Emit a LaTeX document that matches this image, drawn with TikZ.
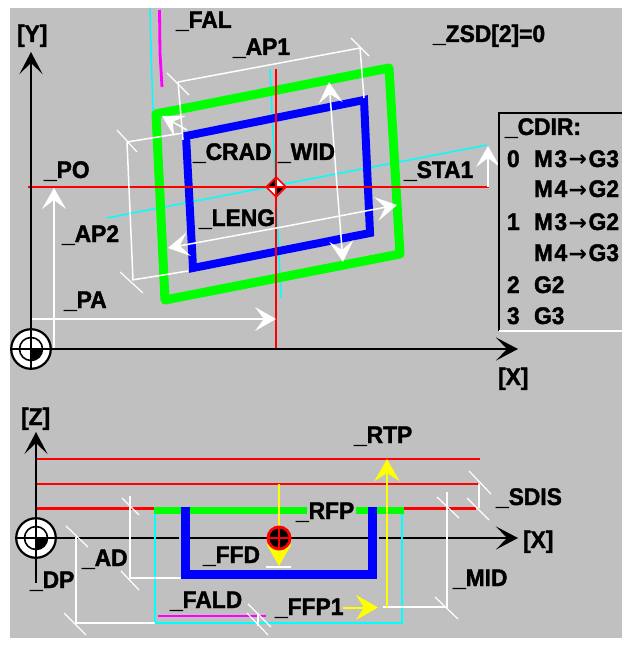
\documentclass[tikz,border=0pt]{standalone}
\usepackage{fontspec}
\setmainfont{Liberation Sans}[BoldFeatures={FakeBold=1.7,FakeStretch=0.95}]
\newfontfamily\arrowfont{DejaVu Sans Bold}
\usetikzlibrary{arrows.meta}
\definecolor{panel}{RGB}{192,192,192}
\definecolor{pred}{RGB}{255,0,0}
\definecolor{pgreen}{RGB}{0,255,0}
\definecolor{pblue}{RGB}{0,0,255}
\definecolor{pcyan}{RGB}{0,255,255}
\definecolor{pmag}{RGB}{255,0,255}
\definecolor{pyel}{RGB}{255,255,0}
\tikzset{
  lbl/.style={anchor=base west,inner sep=0pt,outer sep=0pt,font=\fontsize{24}{24}\selectfont\bfseries,text=black},
  axis/.style={black,line width=1.4pt},
  axhead/.style={-{Stealth[length=22pt,width=23pt,inset=11pt]}},
  wline/.style={white,line width=1.5pt},
  wthick/.style={white,line width=2pt},
  wtick/.style={white,line width=1.2pt},
  whead/.style={-{Stealth[length=21pt,width=24pt,inset=9pt]}},
  yhead/.style={-{Stealth[length=22pt,width=25pt,inset=8pt]}},
  redl/.style={pred,line width=1.6pt},
  grn/.style={pgreen,line width=9pt,line join=round},
  blu/.style={pblue,line width=8pt,line join=miter},
  cyn/.style={pcyan,line width=1.5pt},
  mag/.style={pmag,line width=2.8pt},
  yel/.style={pyel,line width=2pt}
}
\newcommand{\originmark}[2]{%
  \fill[white] (#1,#2) circle (20.5pt);
  \draw[black,line width=2.2pt] (#1,#2) circle (19.8pt);
  \draw[black,line width=1.6pt] (#1,#2) circle (11.5pt);
  \fill[black] (#1,#2) -- (#1+11,#2) arc[start angle=0,end angle=-90,radius=11pt] -- cycle;
  \draw[black,line width=1.5pt] (#1-21,#2) -- (#1+21,#2) (#1,#2-21) -- (#1,#2+21);
}
\begin{document}
\begin{tikzpicture}[x=1pt,y=-1pt]
\useasboundingbox (0,0) rectangle (631,647);
\fill[white] (0,0) rectangle (631,647);
\fill[panel] (10,8) rectangle (622,638);

%% ---------- upper view
\draw[cyn] (150,8) -- (151,53) -- (153,110);
\draw[cyn] (107,218) -- (487,145);
\draw[cyn] (270,69) -- (281,298);
\draw[mag] (159.5,10) -- (160,53) -- (162,87);
\draw[grn] (156,114) -- (389,68) -- (400,254) -- (165,300) -- cycle;
\draw[blu] (186,136) -- (364,100) -- (370,233) -- (193,268) -- cycle;
\draw[redl] (28,187) -- (489,187);
\draw[pred,line width=2.6pt] (276,69) -- (276,349);
\draw[wline] (178,82) -- (360,48);
\draw[wline] (178,82) -- (183,140);
\draw[wline] (360,48) -- (364,98);
\draw[wline] (127,142) -- (183,133);
\draw[wline] (127,142) -- (133,280);
\draw[wline] (132,280) -- (188,271);
\draw[wtick] (167,73) -- (189,95);
\draw[wtick] (351,38) -- (369,56);
\draw[wtick] (117,130) -- (137,152);
\draw[wtick] (120,272) -- (143,293);
\draw[wline,whead] (187,130) -- (162,116);
\draw[wline,whead] (336,173) -- (329,82);
\draw[wline,whead] (336,173) -- (343,262);
\draw[wline,whead] (282,227) -- (168,248);
\draw[wline,whead] (282,227) -- (397,205);
\draw[wthick,whead] (54,349) -- (54,188);
\draw[wthick,whead] (31,319) -- (276,319);
\draw[wline,whead] (488,187) -- (488,146);
\draw[axis,axhead] (31,349) -- (31,52);
\draw[axis,axhead] (31,349) -- (518,349);
\originmark{31}{349}
\fill[pred] (276,176) -- (287,187) -- (276,198) -- (265,187) -- cycle;
\fill[white] (276,178.5) -- (284.5,187) -- (276,195.5) -- (267.5,187) -- cycle;
\fill[black] (276,187) -- (276,178.5) -- (267.5,187) -- cycle (276,187) -- (276,195.5) -- (284.5,187) -- cycle;
\draw[pred,line width=2.6pt] (265,187) -- (287,187) (276,176) -- (276,198);
\draw[black,line width=1.8pt] (499,331) -- (499,113) -- (622,113);
\draw[white,line width=1.5pt] (499,331) -- (622,331);

\node[lbl] (fal) at (176,28) {\_FAL};
\node[lbl] (ap1) at (233,55) {\_AP1};
\node[lbl] (ylab) at (17,42) {[Y]};
\node[lbl] (zsd) at (433,42) {\_ZSD[2]=0};
\node[lbl] (po) at (44,178) {\_PO};
\node[lbl] (crad) at (193,160) {\_CRAD};
\node[lbl] (wid) at (278,160) {\_WID};
\node[lbl] (sta) at (404,178) {\_STA1};
\node[lbl] (ap2) at (62,242) {\_AP2};
\node[lbl] (leng) at (199,226) {\_LENG};
\node[lbl] (pa) at (64,308) {\_PA};
\node[lbl] (xlab) at (498,385) {[X]};
\node[lbl] (cdir) at (505,135) {\_CDIR:};
\newcommand{\ar}{\hspace{1.5pt}{\arrowfont\fontsize{22}{22}\selectfont→}\hspace{1.5pt}}
\node[lbl] (r0) at (507,167) {0};
\node[lbl] (r0a) at (534,167) {M\hspace{1.5pt}3\ar G3};
\node[lbl] (r0b) at (534,197) {M\hspace{1.5pt}4\ar G2};
\node[lbl] (r1) at (507,230) {1};
\node[lbl] (r1a) at (534,230) {M\hspace{1.5pt}3\ar G2};
\node[lbl] (r1b) at (534,261) {M\hspace{1.5pt}4\ar G3};
\node[lbl] (r2) at (507,293) {2};
\node[lbl] (r2a) at (534,293) {G2};
\node[lbl] (r3) at (507,324) {3};
\node[lbl] (r3a) at (534,324) {G3};

%% ---------- lower view
\draw[redl] (37,459) -- (480,459);
\draw[redl] (37,484) -- (478,484);
\draw[pred,line width=2.6pt] (37,508.5) -- (154,508.5) (404,508.5) -- (476,508.5);
\draw[axis,axhead] (36,583) -- (36,432);
\draw[axis] (36,538) -- (179,538) (190,538) -- (368,538);
\draw[axis,axhead] (379,538) -- (518,538);
\draw[cyn] (155,514) -- (155,623) -- (402,623) -- (402,514);
\draw[pgreen,line width=7pt] (154,510.5) -- (307,510.5) (356,510.5) -- (404,510.5);
\draw[pblue,line width=9pt,line join=miter] (185.5,507) -- (185.5,574.5) -- (372.5,574.5) -- (372.5,507);
\draw[mag] (158,616) -- (266,616);
\draw[wline] (130,496) -- (130,578) -- (181,578);
\draw[wtick] (122,498) -- (139,515);
\draw[wtick] (121,571) -- (139,590);
\draw[wline] (76,537) -- (76,623) -- (155,623);
\draw[wtick] (66,526) -- (88,547);
\draw[wtick] (64,613) -- (86,635);
\draw[wline] (258,613) -- (258,626);
\draw[wtick] (248,604) -- (271,627);
\draw[wtick] (247,613) -- (268,635);
\draw[wthick] (383,607) -- (447,607) -- (447,492);
\draw[wtick] (437,497) -- (459,518);
\draw[wtick] (435,597) -- (458,619);
\draw[wline] (479,484) -- (479,508);
\draw[wtick] (469,471) -- (491,494);
\draw[wtick] (467,498) -- (489,520);
\draw[yel,yhead] (279,484) -- (279,566);
\draw[white,line width=1.6pt] (266,567) -- (291,567);
\draw[yel,yhead] (387,607) -- (387,459);
\draw[yel,yhead] (343,607.5) -- (378,607.5);
\originmark{36}{538}
\fill[pred] (279,538) circle (12.5pt);
\fill[black] (279,538) circle (9.5pt);
\draw[pred,line width=2.2pt] (267,538) -- (291,538) (279,526) -- (279,550);

\node[lbl] (zlab) at (21,425) {[Z]};
\node[lbl] (xlab2) at (523,548) {[X]};
\node[lbl] (rtp) at (354,443) {\_RTP};
\node[lbl] (sdis) at (496,505) {\_SDIS};
\node[lbl] (rfp) at (296,519) {\_RFP};
\node[lbl] (mid) at (453,586) {\_MID};
\node[lbl] (ad) at (82,566) {\_AD};
\node[lbl] (dp) at (30,588) {\_DP};
\node[lbl] (ffd) at (203,563) {\_FFD};
\node[lbl] (fald) at (170,608) {\_FALD};
\node[lbl] (ffp) at (275,615) {\_FFP1};
\end{tikzpicture}
\end{document}
